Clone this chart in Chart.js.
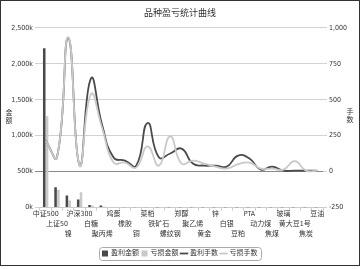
<!DOCTYPE html>
<html>
<head>
    <meta charset="utf-8">
    <title>品种盈亏统计曲线</title>
    <style>
        body { margin: 0; background: #fff; font-family: "DejaVu Sans Condensed", "Noto Sans CJK SC", sans-serif; }
        #wrap {
            position: absolute; left: 0; top: 0;
            width: 358px; height: 264px;
            border: 1px solid #333;
        }
        .axis-title {
            position: absolute;
            font-size: 7px;
            color: #333;
            line-height: 8px;
            text-align: center;
            width: 8px;
        }
        #leftTitle { left: 4px; top: 108px; }
        #rightTitle { left: 345px; top: 107px; }
    </style>
</head>
<body>
    <div id="wrap">
        <canvas id="myChart"></canvas>
        <div class="axis-title" id="leftTitle">金<br>额</div>
        <div class="axis-title" id="rightTitle">手<br>数</div>
    </div>

    <script src="https://cdn.jsdelivr.net/npm/chart.js"></script>
    <script>
        // данные
        const categories = ['中证500', '上证50', '镍', '沪深300', '白糖', '聚丙烯', '鸡蛋', '橡胶', '铜',
            '菜粕', '铁矿石', '螺纹钢', '郑醇', '聚乙烯', '黄金', '锌', '白银', '豆粕', 'PTA',
            '动力煤', '焦煤', '玻璃', '黄大豆1号', '焦炭', '豆油'];
        const profitAmount = [2215, 284, 168, 112, 35, 28, 8, 6, 4, 5, 3, 3, 2, 3, 2, 2, 2, 2, 2, 1, 1, 1, 1, 1, 1];
        const lossAmount = [1270, 247, 98, 214, 28, 14, 6, 5, 3, 4, 3, 2, 2, 2, 2, 2, 1, 1, 1, 1, 1, 1, 1, 1, 1];
        const profitLots = [217, 100, 930, 42, 648, 320, 98, 77, 42, 338, 100, 126, 160, 56, 42, 42, 35, 112, 91, 14, 35, 7, 7, 7, 7];
        const lossLots = [215, 100, 935, 42, 538, 300, 63, 63, 28, 175, 42, 245, 56, 77, 56, 35, 21, 52, 63, 21, 21, 14, 73, 7, 7];
        const amountTicks = [0, 500, 1000, 1500, 2000, 2500];
        const lotTicks = [-250, 0, 250, 500, 750, 1000];

        // подписи в три ряда
        const labels = categories.map((c, i) => {
            const rows = ['', '', ''];
            rows[i % 3] = c;
            return rows;
        });

        const FONT = '"DejaVu Sans Condensed", "Noto Sans CJK SC", sans-serif';
        const DARK = '#4a4a4a';
        const LIGHT = '#c9c9c9';

        // рамка вокруг легенды
        const legendBox = {
            id: 'legendBox',
            afterDraw(chart) {
                const boxes = chart.legend.legendHitBoxes;
                if (!boxes || !boxes.length) return;
                let l = Infinity, r = -Infinity, t = Infinity, b = -Infinity;
                boxes.forEach(h => {
                    l = Math.min(l, h.left); r = Math.max(r, h.left + h.width);
                    t = Math.min(t, h.top); b = Math.max(b, h.top + h.height);
                });
                const c = chart.ctx;
                c.save();
                c.strokeStyle = '#aaa';
                c.lineWidth = 1;
                c.beginPath();
                c.roundRect(Math.round(l - 4) + 0.5, Math.round(t - 3) + 0.5, r - l + 7, b - t + 6, 3);
                c.stroke();
                c.restore();
            }
        };

        const ctx = document.getElementById('myChart').getContext('2d');
        const myChart = new Chart(ctx, {
            data: {
                labels: labels,
                datasets: [
                    {
                        type: 'bar', label: '盈利金额', data: profitAmount, yAxisID: 'y',
                        backgroundColor: DARK, order: 3, pointStyle: 'rect',
                        categoryPercentage: 0.5, barPercentage: 0.9
                    },
                    {
                        type: 'bar', label: '亏损金额', data: lossAmount, yAxisID: 'y',
                        backgroundColor: LIGHT, order: 4, pointStyle: 'rect',
                        categoryPercentage: 0.5, barPercentage: 0.9
                    },
                    {
                        type: 'line', label: '盈利手数', data: profitLots, yAxisID: 'y1',
                        borderColor: DARK, backgroundColor: DARK, borderWidth: 1.8,
                        tension: 0.5, pointRadius: 0, order: 2, pointStyle: 'line'
                    },
                    {
                        type: 'line', label: '亏损手数', data: lossLots, yAxisID: 'y1',
                        borderColor: LIGHT, backgroundColor: LIGHT, borderWidth: 1.8,
                        tension: 0.5, pointRadius: 0, order: 1, pointStyle: 'line'
                    }
                ]
            },
            options: {
                responsive: true,
                maintainAspectRatio: false,
                animation: false,
                layout: { padding: { left: 0, right: 0, top: 0, bottom: -2 } },
                plugins: {
                    title: {
                        display: true,
                        text: '品种盈亏统计曲线',
                        color: '#333',
                        font: { family: FONT, size: 9, weight: 'normal' },
                        padding: { top: 7, bottom: 9 }
                    },
                    legend: {
                        position: 'bottom',
                        labels: {
                            usePointStyle: true,
                            boxWidth: 5,
                            boxHeight: 6,
                            padding: 3,
                            color: '#333',
                            font: { family: FONT, size: 7 },
                            sort: (a, b) => a.datasetIndex - b.datasetIndex
                        }
                    },
                    tooltip: { enabled: false }
                },
                scales: {
                    x: {
                        offset: true,
                        afterFit: s => { s.height += 9; },
                        grid: { drawOnChartArea: false, tickLength: 3, color: '#ccc' },
                        border: { color: '#ccc' },
                        ticks: {
                            autoSkip: false, maxRotation: 0, minRotation: 0, padding: -1,
                            color: '#333',
                            font: { family: FONT, size: 7, lineHeight: 1.4 }
                        }
                    },
                    y: {
                        position: 'left',
                        min: 0, max: 2500,
                        afterFit: s => { s.width = 39; },
                        afterBuildTicks: s => { s.ticks = amountTicks.map(v => ({ value: v })); },
                        border: { display: false },
                        grid: {
                            tickLength: 5,
                            color: c => (c.tick && c.tick.value === 500) ? '#8a8a8a' : '#d2d2d2'
                        },
                        ticks: {
                            padding: 2, color: '#333',
                            font: { family: FONT, size: 7 },
                            callback: v => v.toLocaleString('en-US') + 'k'
                        }
                    },
                    y1: {
                        position: 'right',
                        min: -250, max: 1000,
                        afterFit: s => { s.width = 36; },
                        afterBuildTicks: s => { s.ticks = lotTicks.map(v => ({ value: v })); },
                        border: { display: false },
                        grid: { drawOnChartArea: false, tickLength: 4, color: '#d2d2d2' },
                        ticks: {
                            padding: 2, color: '#333',
                            font: { family: FONT, size: 7 }
                        }
                    }
                }
            },
            plugins: [legendBox]
        });
    </script>
</body>
</html>
